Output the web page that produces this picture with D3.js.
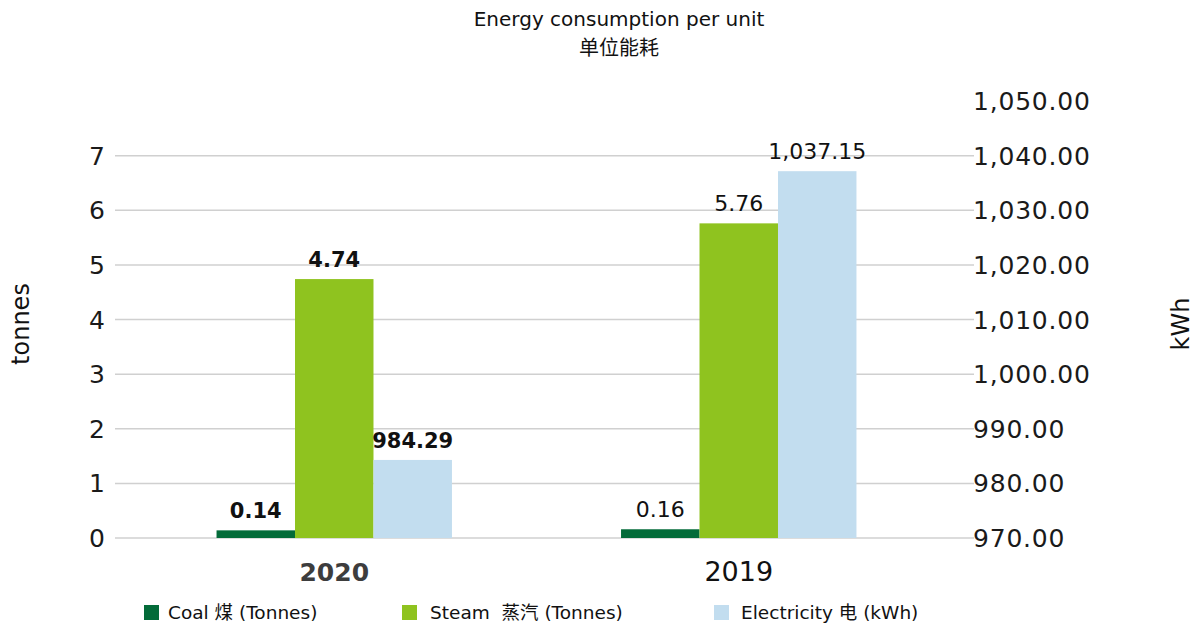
<!DOCTYPE html>
<html>
<head>
<meta charset="utf-8">
<script src="https://cdn.jsdelivr.net/npm/d3@7"></script>
<style>
  body { margin: 0; background: #fff; }
  text { font-family: "DejaVu Sans", "Noto Sans CJK SC", sans-serif; white-space: pre; }
</style>
</head>
<body>
<svg width="1194" height="626"></svg>
<script>
// data
var years = ["2020", "2019"];
var coal = [0.14, 0.16];
var steam = [4.74, 5.76];
var electricity = [984.29, 1037.15];
var leftTicks = [0, 1, 2, 3, 4, 5, 6, 7];
var rightTicks = [970, 980, 990, 1000, 1010, 1020, 1030, 1040, 1050];
var seriesNames = ["Coal 煤 (Tonnes)", "Steam  蒸汽 (Tonnes)", "Electricity 电 (kWh)"];
var colors = ["#036b39", "#8fc31f", "#c2ddef"];

var svg = d3.select("svg");

var yL = d3.scaleLinear().domain([0, 8]).range([538, 101]);
var yR = d3.scaleLinear().domain([970, 1050]).range([538, 101]);
var x0 = d3.scaleBand().domain(years).range([132, 941]).paddingInner(0.418).paddingOuter(0.209);
var x1 = d3.scaleBand().domain([0, 1, 2]).range([0, x0.bandwidth()]);

// gridlines
svg.append("g").selectAll("line")
  .data(leftTicks)
  .enter().append("line")
    .attr("x1", 115).attr("x2", 974)
    .attr("y1", function(d) { return yL(d); })
    .attr("y2", function(d) { return yL(d); })
    .attr("stroke", "#d0d0d0").attr("stroke-width", 1.5);

// left ticks
svg.append("g").selectAll("text")
  .data(leftTicks)
  .enter().append("text")
    .attr("x", 105)
    .attr("y", function(d) { return yL(d) + 9; })
    .attr("text-anchor", "end")
    .attr("font-size", 25)
    .attr("fill", "#1a1a1a")
    .text(function(d) { return d; });

// right ticks
svg.append("g").selectAll("text")
  .data(rightTicks)
  .enter().append("text")
    .attr("x", 973)
    .attr("y", function(d) { return yR(d) + 9; })
    .attr("font-size", 25)
    .attr("letter-spacing", 0.8)
    .attr("fill", "#1a1a1a")
    .text(function(d) { return d3.format(",.2f")(d); });

// bars
var rows = years.map(function(y, i) {
  return { year: y, i: i, vals: [
    { s: 0, v: coal[i], y: yL(coal[i]), label: coal[i].toFixed(2) },
    { s: 1, v: steam[i], y: yL(steam[i]), label: steam[i].toFixed(2) },
    { s: 2, v: electricity[i], y: yR(electricity[i]), label: d3.format(",.2f")(electricity[i]) }
  ]};
});

var g = svg.append("g").selectAll("g")
  .data(rows)
  .enter().append("g")
    .attr("transform", function(d) { return "translate(" + x0(d.year) + ",0)"; });

g.selectAll("rect")
  .data(function(d) { return d.vals; })
  .enter().append("rect")
    .attr("x", function(d) { return x1(d.s); })
    .attr("width", x1.bandwidth())
    .attr("y", function(d) { return d.y; })
    .attr("height", function(d) { return 538 - d.y; })
    .attr("fill", function(d) { return colors[d.s]; });

g.each(function(r) {
  d3.select(this).selectAll("text.val")
    .data(r.vals)
    .enter().append("text")
      .attr("class", "val")
      .attr("x", function(d) { return x1(d.s) + x1.bandwidth() / 2; })
      .attr("y", function(d) { return d.y - 12; })
      .attr("text-anchor", "middle")
      .attr("font-size", r.i === 0 ? 21 : 22)
      .attr("font-weight", r.i === 0 ? "bold" : "normal")
      .attr("fill", "#111")
      .text(function(d) { return d.label; });
});

// category labels
svg.append("g").selectAll("text")
  .data(years)
  .enter().append("text")
    .attr("x", function(d) { return x0(d) + x0.bandwidth() / 2; })
    .attr("y", 581)
    .attr("text-anchor", "middle")
    .attr("font-size", function(d, i) { return i === 0 ? 25 : 27; })
    .attr("font-weight", function(d, i) { return i === 0 ? "bold" : "normal"; })
    .attr("fill", function(d, i) { return i === 0 ? "#3d3d3d" : "#111"; })
    .text(function(d) { return d; });

// title
svg.append("text").attr("x", 619).attr("y", 26).attr("text-anchor", "middle")
  .attr("font-size", 20).attr("fill", "#111").text("Energy consumption per unit");
svg.append("text").attr("x", 619).attr("y", 55).attr("text-anchor", "middle")
  .attr("font-size", 20).attr("fill", "#111").text("单位能耗");

// axis titles
svg.append("text").attr("transform", "translate(29,324) rotate(-90)")
  .attr("text-anchor", "middle").attr("font-size", 24).attr("fill", "#111").text("tonnes");
svg.append("text").attr("transform", "translate(1189,324) rotate(-90)")
  .attr("text-anchor", "middle").attr("font-size", 24).attr("fill", "#111").text("kWh");

// legend
var legendX = [144, 402, 714];
var legendGap = [24, 28, 27];
var lg = svg.append("g").selectAll("g")
  .data(seriesNames)
  .enter().append("g")
    .attr("transform", function(d, i) { return "translate(" + legendX[i] + ",605)"; });
lg.append("rect").attr("width", 15).attr("height", 15)
  .attr("fill", function(d, i) { return colors[i]; });
lg.append("text").attr("x", function(d, i) { return legendGap[i]; })
  .attr("y", 14).attr("font-size", 18.5).attr("fill", "#111")
  .text(function(d) { return d; });
</script>
</body>
</html>
